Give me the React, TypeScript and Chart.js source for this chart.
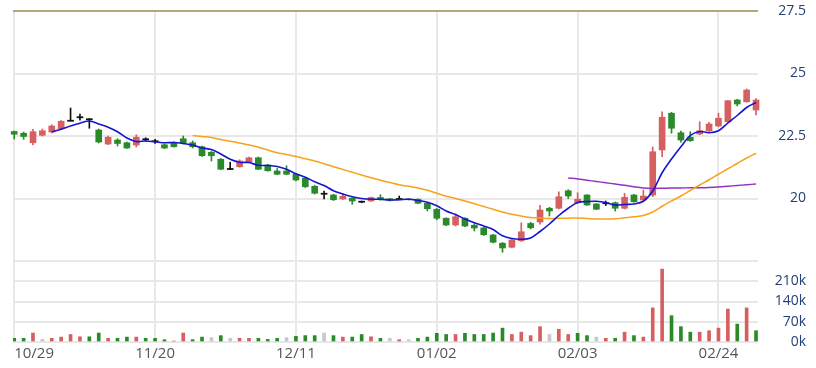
import { useEffect, useRef } from 'react';
import { Chart, registerables } from 'chart.js';

Chart.register(...registerables);

// ---------- data ----------
const tickIdx = [0, 15, 30, 45, 60, 75];
const tickLabels = ['10/29', '11/20', '12/11', '01/02', '02/03', '02/24'];

const open = [
  22.68, 22.61, 22.23, 22.53, 22.66, 22.79, 23.11, 23.25, 23.17, 22.74,
  22.18, 22.34, 22.23, 22.14, 22.37, 22.29, 22.15, 22.23, 22.39, 22.23,
  22.07, 21.85, 21.57, 21.18, 21.27, 21.47, 21.63, 21.34, 21.10, 21.10,
  20.97, 20.81, 20.49, 20.19, 20.14, 19.98, 20.01, 19.87, 19.90, 20.04,
  19.99, 19.98, 19.98, 19.97, 19.81, 19.57, 19.21, 18.94, 19.21, 18.93,
  18.82, 18.54, 18.21, 18.05, 18.31, 19.00, 19.06, 19.61, 19.61, 20.31,
  19.83, 20.14, 19.78, 19.81, 19.83, 19.61, 20.14, 19.94, 20.14, 21.94,
  23.41, 22.63, 22.45, 22.58, 22.71, 22.90, 23.07, 23.94, 23.87, 23.54,
];
const high = [
  22.70, 22.66, 22.77, 22.78, 22.95, 23.12, 23.62, 23.38, 23.19, 22.78,
  22.50, 22.39, 22.26, 22.55, 22.43, 22.37, 22.18, 22.27, 22.50, 22.30,
  22.10, 21.88, 21.60, 21.45, 21.55, 21.66, 21.66, 21.37, 21.20, 21.31,
  21.00, 20.84, 20.52, 20.30, 20.17, 20.20, 20.03, 19.90, 20.06, 20.15,
  20.01, 20.10, 20.00, 19.99, 19.85, 19.60, 19.23, 19.38, 19.23, 18.99,
  18.85, 18.57, 18.24, 18.40, 19.03, 19.05, 19.73, 19.65, 20.27, 20.35,
  20.23, 20.16, 19.80, 19.90, 19.86, 20.21, 20.17, 20.34, 22.06, 23.47,
  23.45, 22.70, 22.67, 23.07, 23.05, 23.41, 23.93, 23.97, 24.38, 24.00,
];
const low = [
  22.38, 22.37, 22.14, 22.50, 22.62, 22.75, 23.11, 23.13, 22.81, 22.22,
  22.15, 22.10, 22.00, 22.06, 22.29, 22.20, 21.99, 22.05, 22.18, 22.02,
  21.68, 21.50, 21.15, 21.16, 21.25, 21.45, 21.15, 21.09, 20.95, 20.95,
  20.70, 20.44, 20.18, 19.98, 19.92, 19.96, 19.77, 19.83, 19.88, 19.93,
  19.90, 19.95, 19.94, 19.79, 19.50, 19.15, 18.91, 18.90, 18.87, 18.70,
  18.52, 18.22, 17.85, 18.02, 18.28, 18.78, 18.97, 19.30, 19.58, 20.00,
  19.80, 19.72, 19.55, 19.72, 19.50, 19.58, 19.85, 19.92, 20.07, 21.67,
  22.61, 22.25, 22.29, 22.55, 22.68, 22.87, 23.05, 23.70, 23.85, 23.34,
];
const close = [
  22.57, 22.48, 22.67, 22.71, 22.90, 23.09, 23.11, 23.25, 23.17, 22.26,
  22.45, 22.20, 22.02, 22.45, 22.37, 22.29, 22.02, 22.07, 22.23, 22.07,
  21.71, 21.71, 21.17, 21.18, 21.50, 21.63, 21.17, 21.11, 20.97, 20.97,
  20.74, 20.47, 20.21, 20.19, 19.95, 20.09, 19.90, 19.87, 20.04, 19.95,
  19.92, 19.98, 19.96, 19.81, 19.59, 19.21, 18.94, 19.27, 18.90, 18.82,
  18.55, 18.25, 18.02, 18.34, 18.67, 18.83, 19.54, 19.50, 20.07, 20.10,
  19.97, 19.74, 19.57, 19.81, 19.61, 20.05, 19.87, 20.10, 21.87, 23.25,
  22.81, 22.34, 22.31, 22.71, 22.98, 23.21, 23.91, 23.78, 24.34, 23.94,
];
// doji flags (open == close, drawn black)
const doji = [6, 7, 8, 14, 15, 23, 33, 37, 41, 63];

const volume = [
  12600, 12600, 31000, 9000, 12600, 17000, 26000, 18000, 18000, 31000,
  12600, 12600, 17000, 17000, 12600, 12600, 8000, 3500, 31000, 8000,
  17000, 15000, 22000, 12600, 12600, 12600, 12600, 9000, 12600, 15000,
  19500, 22000, 22000, 31000, 22000, 17000, 17000, 26000, 18000, 12600,
  12600, 8000, 8000, 12600, 17000, 30000, 26000, 26000, 30000, 26000,
  26000, 31000, 48000, 26000, 34000, 22000, 53000, 26000, 44000, 26000,
  30000, 22000, 17000, 12600, 12600, 34000, 22000, 17000, 118000, 252000,
  91000, 53000, 34000, 34000, 39000, 48000, 114000, 62000, 118000, 39000,
];
// u = up vs previous close, d = down, n = unchanged
const volDir = [
  'd', 'd', 'u', 'n', 'u', 'u', 'u', 'u', 'd', 'd',
  'u', 'd', 'd', 'u', 'd', 'd', 'd', 'u', 'u', 'd',
  'd', 'n', 'd', 'n', 'u', 'u', 'd', 'd', 'd', 'n',
  'd', 'd', 'd', 'n', 'd', 'u', 'd', 'd', 'u', 'd',
  'n', 'u', 'n', 'd', 'd', 'd', 'd', 'u', 'd', 'd',
  'd', 'd', 'd', 'u', 'u', 'u', 'u', 'n', 'u', 'u',
  'd', 'd', 'n', 'u', 'd', 'u', 'd', 'u', 'u', 'u',
  'd', 'd', 'd', 'u', 'u', 'u', 'u', 'd', 'u', 'd',
];

const ma5Start = 4;
const ma5 = [
  22.67, 22.77, 22.90, 23.01, 23.10, 22.98, 22.85, 22.67, 22.42, 22.28,
  22.30, 22.27, 22.23, 22.24, 22.20, 22.14, 22.02, 21.96, 21.78, 21.57,
  21.45, 21.44, 21.33, 21.32, 21.28, 21.17, 20.99, 20.85, 20.67, 20.52,
  20.31, 20.18, 20.07, 20.00, 19.97, 19.97, 19.94, 19.95, 19.97, 19.92,
  19.85, 19.71, 19.50, 19.36, 19.18, 19.03, 18.90, 18.76, 18.51, 18.40,
  18.37, 18.42, 18.68, 18.98, 19.32, 19.61, 19.84, 19.88, 19.89, 19.84,
  19.74, 19.76, 19.78, 19.89, 20.30, 21.03, 21.58, 22.07, 22.52, 22.68,
  22.63, 22.71, 23.02, 23.32, 23.64, 23.84,
];
const ma20Start = 19;
const ma20 = [
  22.52, 22.48, 22.44, 22.36, 22.29, 22.22, 22.14, 22.05, 21.94, 21.83,
  21.76, 21.68, 21.59, 21.50, 21.39, 21.27, 21.16, 21.05, 20.94, 20.83,
  20.73, 20.64, 20.55, 20.49, 20.42, 20.33, 20.21, 20.09, 20.00, 19.90,
  19.79, 19.68, 19.57, 19.46, 19.37, 19.30, 19.24, 19.22, 19.20, 19.21,
  19.21, 19.22, 19.20, 19.18, 19.18, 19.19, 19.23, 19.27, 19.32, 19.46,
  19.69, 19.90, 20.10, 20.32, 20.54, 20.75, 20.97, 21.19, 21.40, 21.62,
  21.81,
];
const ma60Start = 59;
const ma60 = [
  20.82, 20.78, 20.73, 20.68, 20.63, 20.58, 20.53, 20.47, 20.42, 20.40,
  20.41, 20.42, 20.42, 20.43, 20.43, 20.44, 20.46, 20.49, 20.52, 20.55,
  20.58,
];

const priceTicks = [17.5, 20, 22.5, 25, 27.5];
const volTicks = [0, 70000, 140000, 210000, 280000];

// ---------- styles ----------
const UP = '#d6605f';
const DOWN = '#2a8a2a';
const DOJI = '#111111';
const VOL_FLAT = '#c8c8c8';
const GRID = '#e8e8e8';
const TOP_LINE = '#b3a878';
const AXIS_TEXT = '#23407a';
const DATE_TEXT = '#555555';
const FONT = 'Open Sans';

const X_MIN = -0.13;
const X_MAX = close.length - 1 + 0.21;

function candleColor(i: number) {
  if (doji.includes(i)) return DOJI;
  return close[i] >= open[i] ? UP : DOWN;
}

function maData(start: number, values: number[]) {
  return values.map((v, k) => ({ x: start + k, y: v }));
}

function yAxisCommon() {
  return {
    position: 'right' as const,
    border: { display: false },
    afterFit: (s: any) => {
      s.width = 48;
    },
  };
}

export default function App() {
  const priceRef = useRef<HTMLCanvasElement>(null);
  const volRef = useRef<HTMLCanvasElement>(null);

  useEffect(() => {
    Chart.defaults.font.family = FONT;
    const idx = close.map((_, i) => i);

    const priceChart = new Chart(priceRef.current!, {
      type: 'bar',
      data: {
        datasets: [
          {
            type: 'line',
            data: maData(ma5Start, ma5),
            borderColor: '#1414d2',
            borderWidth: 1.6,
            pointRadius: 0,
            tension: 0.35,
            order: 0,
          } as any,
          {
            type: 'line',
            data: maData(ma20Start, ma20),
            borderColor: '#f7a21b',
            borderWidth: 1.5,
            pointRadius: 0,
            tension: 0.35,
            order: 0,
          } as any,
          {
            type: 'line',
            data: maData(ma60Start, ma60),
            borderColor: '#9530c0',
            borderWidth: 1.5,
            pointRadius: 0,
            tension: 0.35,
            order: 0,
          } as any,
          {
            type: 'bar',
            data: idx.map((i) => ({
              x: i,
              y: doji.includes(i)
                ? [open[i] - 0.022, open[i] + 0.022]
                : [open[i], close[i]],
            })),
            backgroundColor: idx.map(candleColor),
            barThickness: 6,
            grouped: false,
            borderWidth: 0,
            clip: 4,
            order: 1,
          } as any,
          {
            type: 'bar',
            data: idx.map((i) => ({ x: i, y: [low[i], high[i]] })),
            backgroundColor: idx.map(candleColor),
            barThickness: 1,
            grouped: false,
            borderWidth: 0,
            clip: 4,
            order: 2,
          } as any,
        ],
      },
      options: {
        responsive: false,
        animation: false,
        events: [],
        layout: { padding: { top: 11, bottom: 107, left: 13, right: 10 } },
        plugins: { legend: { display: false }, tooltip: { enabled: false } },
        scales: {
          x: {
            type: 'linear',
            offset: false,
            min: X_MIN,
            max: X_MAX,
            afterBuildTicks: (s: any) => {
              s.ticks = tickIdx.map((v) => ({ value: v }));
            },
            ticks: { display: false },
            grid: { color: GRID, lineWidth: 2, drawTicks: false, offset: false },
            border: { display: false },
            afterFit: (s: any) => {
              s.height = 0;
            },
          },
          y: {
            ...yAxisCommon(),
            min: 17.5,
            max: 27.5,
            afterBuildTicks: (s: any) => {
              s.ticks = priceTicks.map((v) => ({ value: v }));
            },
            ticks: {
              crossAlign: 'far',
              padding: 0,
              color: AXIS_TEXT,
              font: { family: FONT, size: 14 },
              callback: (v: any) => (v === 17.5 ? '' : String(v)),
            },
            grid: {
              drawTicks: false,
              color: (ctx: any) => (ctx.tick && ctx.tick.value === 27.5 ? TOP_LINE : GRID),
              lineWidth: 2,
            },
          } as any,
        },
      } as any,
    });

    const volChart = new Chart(volRef.current!, {
      type: 'bar',
      data: {
        datasets: [
          {
            data: idx.map((i) => ({ x: i, y: volume[i] })),
            backgroundColor: idx.map((i) =>
              volDir[i] === 'u' ? UP : volDir[i] === 'd' ? DOWN : VOL_FLAT
            ),
            barThickness: 3,
            borderWidth: 0,
            grouped: false,
          },
        ],
      },
      options: {
        responsive: false,
        animation: false,
        events: [],
        layout: { padding: { top: 261, bottom: 0, left: 13, right: 10 } },
        plugins: { legend: { display: false }, tooltip: { enabled: false } },
        scales: {
          x: {
            type: 'linear',
            offset: false,
            min: X_MIN,
            max: X_MAX,
            afterBuildTicks: (s: any) => {
              s.ticks = [...tickIdx, X_MAX].map((v) => ({ value: v }));
            },
            ticks: {
              autoSkip: false,
              maxRotation: 0,
              minRotation: 0,
              align: 'inner',
              padding: 3,
              color: DATE_TEXT,
              font: { family: FONT, size: 15 },
              callback: (_v: any, i: number) => tickLabels[i] ?? '',
            },
            grid: {
              drawTicks: false,
              offset: false,
              lineWidth: 2,
              color: (ctx: any) => (ctx.index >= tickIdx.length ? 'rgba(0,0,0,0)' : GRID),
            },
            border: { display: false },
            afterFit: (s: any) => {
              s.height = 26;
            },
          },
          y: {
            ...yAxisCommon(),
            min: 0,
            max: 280000,
            afterBuildTicks: (s: any) => {
              s.ticks = volTicks.map((v) => ({ value: v }));
            },
            ticks: {
              crossAlign: 'far',
              padding: 0,
              color: AXIS_TEXT,
              font: { family: FONT, size: 14 },
              callback: (v: any) => (v === 280000 ? '' : v / 1000 + 'k'),
            },
            grid: { drawTicks: false, color: GRID, lineWidth: 2 },
          } as any,
        },
      } as any,
    });

    return () => {
      priceChart.destroy();
      volChart.destroy();
    };
  }, []);

  return (
    <div
      style={{
        position: 'fixed',
        left: 0,
        top: 0,
        width: 816,
        height: 368,
        background: '#ffffff',
      }}
    >
      <canvas
        ref={volRef}
        width={816}
        height={368}
        style={{ position: 'absolute', left: 0, top: 0 }}
      />
      <canvas
        ref={priceRef}
        width={816}
        height={368}
        style={{ position: 'absolute', left: 0, top: 0 }}
      />
    </div>
  );
}
